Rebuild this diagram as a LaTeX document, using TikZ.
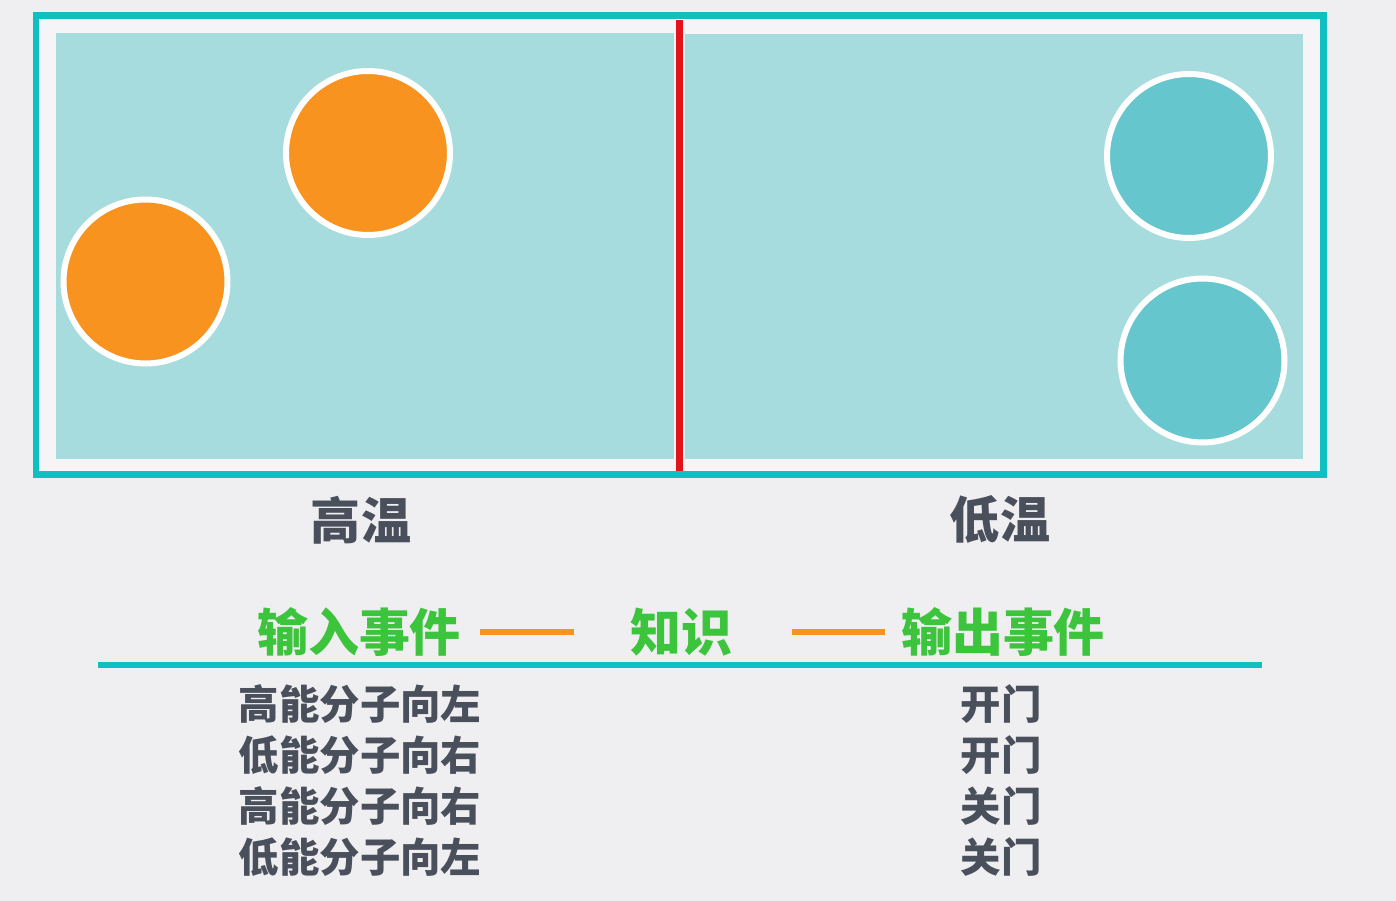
\documentclass[tikz,border=0pt]{standalone}
\usepackage{fontspec}
\newfontfamily\cjk{Noto Sans CJK SC}
\definecolor{bgc}{HTML}{EFEFF1}
\definecolor{framec}{HTML}{10BFC0}
\definecolor{innerc}{HTML}{F5F5F7}
\definecolor{panelc}{HTML}{A6DCDD}
\definecolor{gatec}{HTML}{E3131B}
\definecolor{hotc}{HTML}{F7931E}
\definecolor{coldc}{HTML}{66C6CD}
\definecolor{inkc}{HTML}{4A4F5C}
\definecolor{evc}{HTML}{3DC43D}
\begin{document}
\begin{tikzpicture}[
  x=0.02cm, y=-0.02cm,
  font=\cjk\bfseries,
  hot/.style={circle, draw=white, line width=0.12cm, fill=hotc, minimum size=3.28cm,
    inner sep=0pt, outer sep=0pt},
  cold/.style={hot, fill=coldc},
  zone/.style={text=inkc, inner sep=0pt, font=\cjk\bfseries\fontsize{28.5}{30}\selectfont},
  ev/.style={text=evc, inner sep=0pt, font=\cjk\bfseries\fontsize{29}{31}\selectfont},
  item/.style={text=inkc, inner sep=0pt, font=\cjk\bfseries\fontsize{23}{25}\selectfont},
  link/.style={hotc, line width=0.14cm},
  rule/.style={framec, line width=0.13cm},
  gate/.style={gatec, line width=0.14cm}
]
\fill[bgc] (0,0) rectangle (1396,901);
\useasboundingbox (0,0) rectangle (1396,901);
% the box and its two chambers
\draw[framec, line width=0.14cm, fill=innerc] (36,16) rectangle (1323.5,475);
\fill[panelc] (56,33) rectangle (674,459);
\fill[panelc] (685,34) rectangle (1303,459);
\coordinate (gtop) at (679.5,20);
\coordinate (gbot) at (679.5,471);
\draw[gate] (gtop) -- (gbot);
% molecules
\node[hot] (h1) at (368,153) {};
\node[hot] (h2) at (145.5,281.5) {};
\node[cold] (c1) at (1189,156) {};
\node[cold] (c2) at (1202.5,360.5) {};
\node[zone] (hi) at (361,520) {高温};
\node[zone] (lo) at (1000,520) {低温};
% input -- knowledge -- output
\node[ev] (in) at (359,632) {输入事件};
\node[ev] (kn) at (681,632) {知识};
\node[ev] (out) at (1003,632) {输出事件};
\draw[link, shorten <=0.38cm, shorten >=1.12cm] (in) -- (kn);
\draw[link, shorten <=1.2cm, shorten >=0.32cm] (kn) -- (out);
\coordinate (rl) at (98,665);
\coordinate (rr) at (1262,665);
\draw[rule] (rl) -- (rr);
\foreach \evt/\act [count=\i] in {高能分子向左/开门, 低能分子向右/开门,
    高能分子向右/关门, 低能分子向左/关门} {
  \node[item] (evt\i) at (360,653+51*\i) {\evt};
  \node[item] (act\i) at (1001,653+51*\i) {\act};
}
\end{tikzpicture}
\end{document}
